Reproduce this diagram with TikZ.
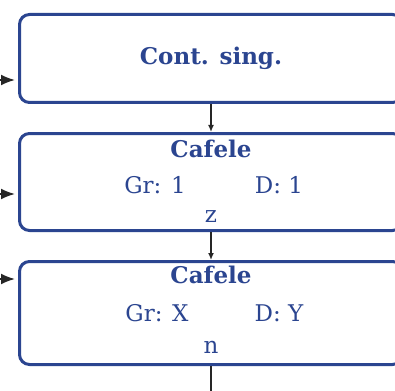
\documentclass[tikz,border=0pt]{standalone}
\usepackage{fontspec}
\setmainfont{DejaVu Serif}
\usepackage{xcolor}
\usepackage{tikz}
\usetikzlibrary{positioning,arrows.meta}

\definecolor{boxblue}{HTML}{2B4590}

\begin{document}
\begin{tikzpicture}[
  x=1pt, y=-1pt,
  node distance=28pt,
  box/.style={draw=boxblue, line width=3pt, rounded corners=10pt, minimum width=383pt, inner sep=0pt},
  title/.style={text=boxblue, font=\fontsize{23}{25}\selectfont\bfseries, inner sep=0pt},
  val/.style={text=boxblue, font=\fontsize{23}{25}\selectfont, inner sep=0pt},
  arr/.style={-{Latex[length=7pt,width=6pt]}, line width=1.8pt, draw=black!85},
  inarr/.style={-{Latex[length=14pt,width=11pt]}, line width=1.8pt, draw=black!85, shorten >=3pt}
]
\useasboundingbox (0,0) rectangle (395,390);

\node[box, minimum height=88pt] (cont) at (211,58.5) {};
\node[box, minimum height=97pt, below=of cont] (caf1) {};
\node[box, minimum height=103pt, below=of caf1] (caf2) {};

% texts
\node[title] (contT) at (cont.center) {Cont. sing.};

\node[title, below=8pt of caf1.north] (caf1T) {Cafele};
\node[val] (caf1G) at ([xshift=-56pt,yshift=-3pt]caf1.center) {Gr: 1};
\node[val] (caf1D) at ([xshift=68pt,yshift=-3pt]caf1.center) {D: 1};
\node[val] (caf1Z) at ([yshift=-35pt]caf1.center) {z};

\node[title, below=6pt of caf2.north] (caf2T) {Cafele};
\node[val] (caf2G) at ([xshift=-54pt]caf2.center) {Gr: X};
\node[val] (caf2D) at ([xshift=68pt]caf2.center) {D: Y};
\node[val] (caf2N) at ([yshift=-34pt]caf2.center) {n};

% free ends
\coordinate (in1) at (-20,80);
\coordinate (in2) at (-20,194);
\coordinate (in3) at (-20,279);
\coordinate (out) at (211,400);

\draw[arr] (cont) -- (caf1);
\draw[arr] (caf1) -- (caf2);
\draw[arr] (caf2) -- (out);

\draw[inarr] (in1) -- (in1 -| cont.west);
\draw[inarr] (in2) -- (in2 -| caf1.west);
\draw[inarr] (in3) -- (in3 -| caf2.west);
\end{tikzpicture}
\end{document}
